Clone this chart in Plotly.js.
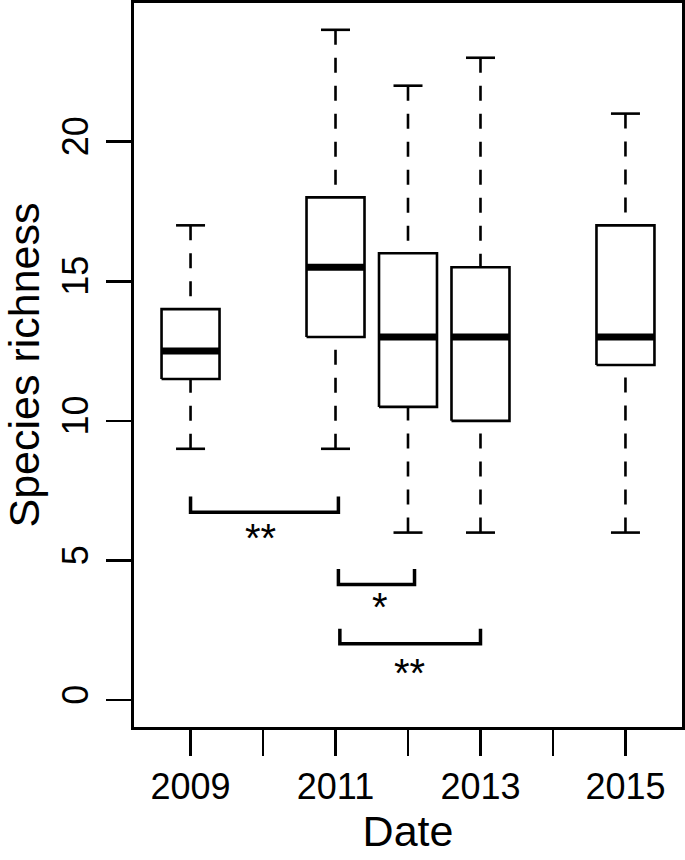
<!DOCTYPE html>
<html>
<head>
<meta charset="utf-8">
<script src="https://cdn.plot.ly/plotly-3.0.1.min.js"></script>
<style>
  html, body { margin: 0; padding: 0; background: #ffffff; }
  #chart { width: 685px; height: 860px; }
</style>
</head>
<body>
<div id="chart"></div>
<script>
// ---- Data ----
const years = [2009, 2011, 2012, 2013, 2015];
const lowerWhisker = [9, 9, 6, 6, 6];
const q1 = [11.5, 13, 10.5, 10, 12];
const median = [12.5, 15.5, 13, 13, 13];
const q3 = [14, 18, 16, 15.5, 17];
const upperWhisker = [17, 24, 22, 23, 21];

const tickYears = [2009, 2010, 2011, 2012, 2013, 2014, 2015];
const tickYearLabels = ["2009", "", "2011", "", "2013", "", "2015"];
const yTicks = [0, 5, 10, 15, 20];

// significance brackets
const bracketStart = [2009.0, 2011.04, 2011.06];
const bracketEnd = [2011.04, 2012.09, 2013.0];
const bracketLevel = [6.73, 4.14, 2.02];
const bracketTip = [7.29, 4.70, 2.56];
const sigLabels = ["**", "*", "**"];
const sigLabelX = [2009.96, 2011.61, 2012.02];
const sigLabelY = [5.96, 3.51, 1.13];

// ---- Geometry helpers (styles only) ----
const boxHalf = 0.4;
const capHalf = 0.2;
const FONT = "Liberation Sans, Arial, Helvetica, sans-serif";

function pushSeg(arrX, arrY, xs, ys) {
  for (let i = 0; i < xs.length; i++) { arrX.push(xs[i]); arrY.push(ys[i]); }
  arrX.push(null); arrY.push(null);
}

const boxX = [], boxY = [], medX = [], medY = [], whX = [], whY = [], capX = [], capY = [];
years.forEach((x, i) => {
  pushSeg(boxX, boxY, [x - boxHalf, x + boxHalf, x + boxHalf, x - boxHalf, x - boxHalf],
                      [q1[i], q1[i], q3[i], q3[i], q1[i]]);
  pushSeg(medX, medY, [x - boxHalf, x + boxHalf], [median[i], median[i]]);
  pushSeg(whX, whY, [x, x], [upperWhisker[i], q3[i]]);
  pushSeg(whX, whY, [x, x], [lowerWhisker[i], q1[i]]);
  pushSeg(capX, capY, [x - capHalf, x + capHalf], [upperWhisker[i], upperWhisker[i]]);
  pushSeg(capX, capY, [x - capHalf, x + capHalf], [lowerWhisker[i], lowerWhisker[i]]);
});

const brX = [], brY = [];
bracketStart.forEach((s, i) => {
  pushSeg(brX, brY, [s, s, bracketEnd[i], bracketEnd[i]],
                    [bracketTip[i], bracketLevel[i], bracketLevel[i], bracketTip[i]]);
});

const common = { mode: "lines", hoverinfo: "skip", showlegend: false, connectgaps: false };
const traces = [
  Object.assign({ x: whX, y: whY, line: { color: "#000", width: 2.6, dash: "15px,13px" } }, common),
  Object.assign({ x: capX, y: capY, line: { color: "#000", width: 2.6 } }, common),
  Object.assign({ x: boxX, y: boxY, line: { color: "#000", width: 2.6 } }, common),
  Object.assign({ x: medX, y: medY, line: { color: "#000", width: 7 } }, common),
  Object.assign({ x: brX, y: brY, line: { color: "#000", width: 3.5 } }, common)
];

const annotations = sigLabels.map((t, i) => ({
  x: sigLabelX[i], y: sigLabelY[i], xref: "x", yref: "y",
  text: t, showarrow: false, xanchor: "center", yanchor: "middle", yshift: -4.5,
  font: { family: FONT, size: 40, color: "#000" }
}));

const axisCommon = {
  showgrid: false, zeroline: false, showline: true, mirror: true,
  linecolor: "#000", linewidth: 2.6,
  ticks: "outside", tickcolor: "#000", tickwidth: 2.6,
  tickfont: { family: FONT, size: 36, color: "#000" },
  fixedrange: true
};

const layout = {
  width: 685, height: 860,
  margin: { l: 134, r: 3, t: 3, b: 133 },
  paper_bgcolor: "#fff", plot_bgcolor: "#fff",
  font: { family: FONT, color: "#000" },
  xaxis: Object.assign({}, axisCommon, {
    range: [2008.22, 2015.78],
    tickmode: "array", tickvals: tickYears, ticktext: tickYearLabels,
    ticklen: 26, ticklabelstandoff: 0,
    title: { text: "Date", font: { family: FONT, size: 43, color: "#000" }, standoff: 10 }
  }),
  yaxis: Object.assign({}, axisCommon, {
    range: [-0.96, 24.96],
    tickmode: "array", tickvals: yTicks, ticktext: yTicks.map(String),
    tickangle: -90, ticklen: 25, ticklabelstandoff: 4,
    title: { text: "Species richness", font: { family: FONT, size: 43, color: "#000" }, standoff: 11 }
  }),
  annotations: annotations
};

Plotly.newPlot("chart", traces, layout, { staticPlot: true, displayModeBar: false });
</script>
</body>
</html>
